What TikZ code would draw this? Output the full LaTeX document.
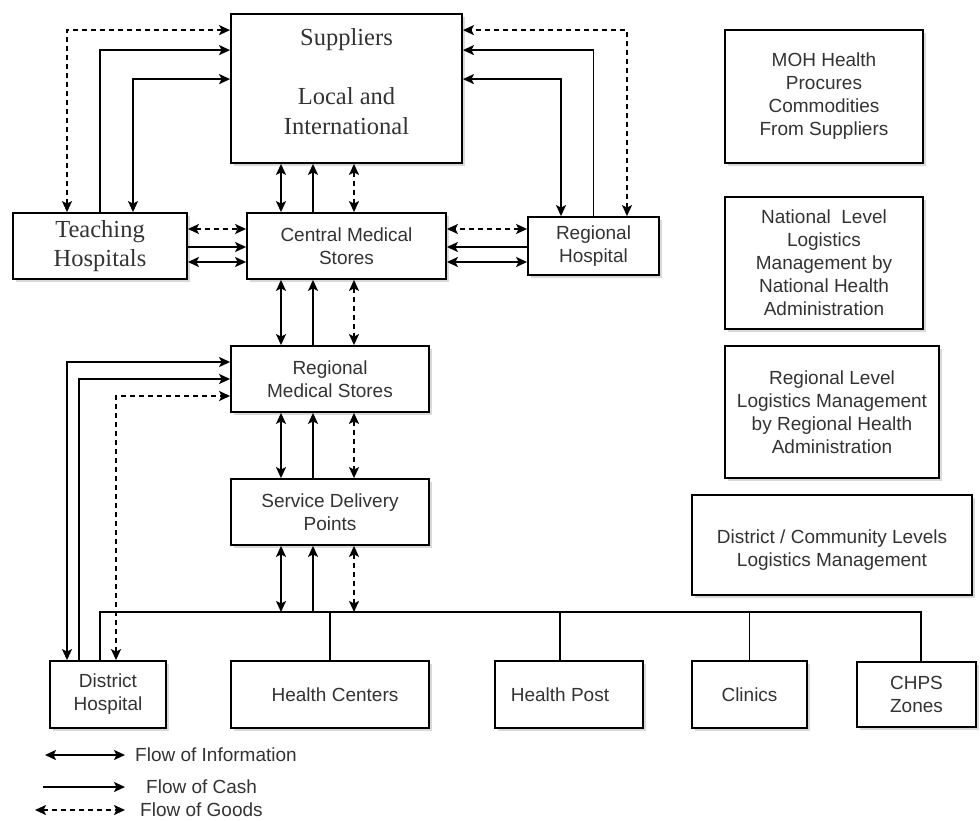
\documentclass[tikz,border=0pt]{standalone}
\usepackage{fontspec}
\setmainfont{Liberation Sans}
\newfontfamily\oldstyle{Liberation Serif}
\usepackage{xcolor}
\definecolor{lmisink}{HTML}{333333}
\usetikzlibrary{arrows.meta,positioning,shadows}
\tikzset{
  lmibox/.style={draw,line width=1.8pt,fill=white,align=center,font=\fontsize{19}{23}\selectfont,text=lmisink,inner sep=2pt,drop shadow={shadow xshift=3pt,shadow yshift=-3pt,opacity=0.3}},
  lmiserif/.style={lmibox,font=\oldstyle\fontsize{24.5}{29}\selectfont},
  lmiinfo/.style={{Stealth[length=11pt,width=10pt,inset=2.5pt]}-{Stealth[length=11pt,width=10pt,inset=2.5pt]},line width=1.8pt},
  lmicash/.style={-{Stealth[length=11pt,width=10pt,inset=2.5pt]},line width=1.8pt},
  lmigoods/.style={lmiinfo,dash pattern=on 5pt off 4pt},
  lmiline/.style={line width=1.8pt},
  lmilegend/.style={font=\fontsize{19}{23}\selectfont,text=lmisink,inner sep=0pt,anchor=west},
}

\begin{document}
\begin{tikzpicture}[x=1pt,y=-1pt]
\useasboundingbox (0,0) rectangle (980,821);
\node[lmibox,minimum width=231,minimum height=149] (sup) at (346.5,88.5) {};
\node[font=\oldstyle\fontsize{24.5}{29.5}\selectfont,text=lmisink,align=center] (supname) at (346.5,81.5) {Suppliers\\[29.5pt]Local and\\International};
\node[lmiserif,minimum width=174,minimum height=66] (teach) at (100,246) {Teaching\\Hospitals};
\node[lmibox,minimum width=199,minimum height=66] (cms) at (346.5,246) {Central Medical\\Stores};
\node[lmibox,minimum width=131,minimum height=58] (rhosp) at (593.5,246) {Regional\\Hospital};
\node[lmibox,minimum width=198,minimum height=66] (rms) at (330,379) {Regional\\Medical Stores};
\node[lmibox,minimum width=198,minimum height=66] (sdp) at (330,512) {Service Delivery\\Points};
\node[lmibox,minimum width=116,minimum height=67] (dhosp) at (108,694.5) {District\\Hospital};
\node[lmibox,minimum width=198,minimum height=67] (hc) at (330,694.5) {\hspace*{10pt}Health Centers};
\node[lmibox,minimum width=148,minimum height=67] (hp) at (569,694.5) {\hspace*{-18pt}Health Post};
\node[lmibox,minimum width=115,minimum height=67] (clin) at (749.5,694.5) {Clinics};
\node[lmibox,minimum width=119,minimum height=65] (chps) at (916.5,694.5) {CHPS\\Zones};

\node[lmibox,minimum width=198,minimum height=133] (moh) at (824,96.5) {MOH Health\\Procures\\Commodities\\From Suppliers};
\node[lmibox,minimum width=198,minimum height=132] (natl) at (824,263) {National\ \ Level\\Logistics\\Management by\\National Health\\Administration};
\node[lmibox,minimum width=214,minimum height=132] (regl) at (832,412) {Regional Level\\Logistics Management\\by Regional Health\\Administration};
\node[lmibox,minimum width=280,minimum height=100] (dist) at (832,545) {\mbox{}\\District / Community Levels\\Logistics Management};

\coordinate (laneI) at (281,0);
\coordinate (laneC) at (313,0);
\coordinate (laneG) at (354,0);
\foreach \a/\b in {sup/cms,cms/rms,rms/sdp} {
  \draw[lmiinfo] (\a.south -| laneI) -- (\b.north -| laneI);
  \draw[lmicash] (\b.north -| laneC) -- (\a.south -| laneC);
  \draw[lmigoods] (\a.south -| laneG) -- (\b.north -| laneG);
}

\coordinate (bus) at (0,612);
\draw[lmiinfo] (sdp.south -| laneI) -- (bus -| laneI);
\draw[lmicash] (bus -| laneC) -- (sdp.south -| laneC);
\draw[lmigoods] (sdp.south -| laneG) -- (bus -| laneG);
\coordinate (dhosp-drop) at ([xshift=-8]dhosp.north);
\coordinate (chps-drop) at ([xshift=4.5]chps.north);
\draw[lmiline] (dhosp-drop) |- (chps-drop |- bus) -- (chps-drop);
\foreach \n/\s in {hc/0,hp/-9,clin/0} {
  \coordinate (\n-drop) at ([xshift=\s]\n.north);
  \draw[lmiline] (\n-drop |- bus) -- (\n-drop);
}

\coordinate (rowG) at (0,229);
\coordinate (rowC) at (0,247);
\coordinate (rowI) at (0,262);
\draw[lmigoods] (teach.east |- rowG) -- (cms.west |- rowG);
\draw[lmicash] (teach.east |- rowC) -- (cms.west |- rowC);
\draw[lmiinfo] (teach.east |- rowI) -- (cms.west |- rowI);
\draw[lmigoods] (rhosp.west |- rowG) -- (cms.east |- rowG);
\draw[lmicash] (rhosp.west |- rowC) -- (cms.east |- rowC);
\draw[lmiinfo] (rhosp.west |- rowI) -- (cms.east |- rowI);

\draw[lmigoods] ([xshift=-33]teach.north) |- ([yshift=-17]sup.north west);
\draw[lmicash] (teach.north) |- ([yshift=-37]sup.north west);
\draw[lmiinfo] ([xshift=33]teach.north) |- ([yshift=-66]sup.north west);
\draw[lmigoods] ([xshift=33.5]rhosp.north) |- ([yshift=-17]sup.north east);
\draw[lmicash] (rhosp.north) |- ([yshift=-37]sup.north east);
\draw[lmiinfo] ([xshift=-32.5]rhosp.north) |- ([yshift=-66]sup.north east);

\draw[lmiinfo] ([xshift=-41]dhosp.north) |- ([yshift=17]rms.west);
\draw[lmicash] ([xshift=-29]dhosp.north) |- (rms.west);
\draw[lmigoods] ([xshift=8]dhosp.north) |- ([yshift=-17]rms.west);

\node[lmilegend] (lginfo) at (135,755) {Flow of Information};
\node[lmilegend] (lgcash) at (146,787) {Flow of Cash};
\node[lmilegend] (lggoods) at (140,810) {Flow of Goods};
\coordinate (lginfo-start) at (45,755);
\coordinate (lgcash-start) at (43,787);
\coordinate (lggoods-start) at (35,810);
\draw[lmiinfo] (lginfo-start) -- ([xshift=-10]lginfo.west);
\draw[lmicash] (lgcash-start) -- ([xshift=-21]lgcash.west);
\draw[lmigoods] (lggoods-start) -- ([xshift=-15]lggoods.west);
\end{tikzpicture}
\end{document}
